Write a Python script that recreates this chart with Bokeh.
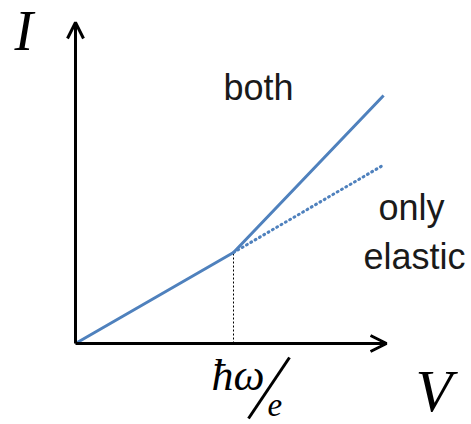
from bokeh.plotting import figure
from bokeh.models import Range1d, Arrow, OpenHead, ColumnDataSource
from bokeh.core.properties import value
from bokeh.embed import file_html
from bokeh.resources import INLINE

# Schematic I-V curve: elastic channel only vs. elastic + inelastic
# Voltage in units of the threshold hbar*omega/e
voltage = [0.0, 1.0, 1.95]
current_both = [0.0, 0.576, 1.57]
voltage_elastic_ext = [1.0, 1.95]
current_elastic_ext = [0.576, 1.13]
threshold_v = 1.0
threshold_i = 0.576

# pixel scale of one unit, origin position in the frame
UNIT = 158.0
OX, OY = 75.0, 343.0
W, H = 471, 424


def X(px):
    return (px - OX) / UNIT


def Y(py):
    return (OY - py) / UNIT


p = figure(width=W, height=H, output_backend="svg", toolbar_location=None,
           x_range=Range1d(X(0), X(W)), y_range=Range1d(Y(H), Y(0)),
           x_axis_location=None, y_axis_location=None, min_border=0)
p.grid.visible = False
p.outline_line_color = None
p.background_fill_color = "white"
p.border_fill_color = "white"

BLUE = "#4f81bd"

# axes drawn as arrows
p.add_layout(Arrow(end=OpenHead(size=16, line_width=3, line_color="black"),
                   x_start=0, y_start=0, x_end=0, y_end=Y(22),
                   line_width=3, line_color="black"))
p.add_layout(Arrow(end=OpenHead(size=16, line_width=3, line_color="black"),
                   x_start=0, y_start=0, x_end=X(386), y_end=0,
                   line_width=3, line_color="black"))

# threshold marker
p.line([threshold_v, threshold_v], [0, threshold_i], line_color="black",
       line_width=1, line_dash="2 2")

# curves
p.line(voltage_elastic_ext, current_elastic_ext, line_color=BLUE, line_width=3,
       line_dash="1 4", line_cap="round")
p.line(voltage, current_both, line_color=BLUE, line_width=3)

# axis labels
p.text([X(14)], [Y(30)], text=["I"], text_font=value("Liberation Serif"),
       text_font_style="italic", text_font_size="56px", text_color="black",
       text_align="left", text_baseline="middle")
p.text([X(415)], [Y(423)], text=["V"], text_font=value("Liberation Serif"),
       text_font_style="italic", text_font_size="60px", text_color="black",
       text_align="left", text_baseline="bottom")

# threshold label hbar*omega / e
p.text([X(211)], [Y(375)], text=["ħω"], text_font=value("Liberation Serif"),
       text_font_style="italic", text_font_size="44px", text_color="black",
       text_align="left", text_baseline="middle")
p.line([X(248), X(289)], [Y(418), Y(357)], line_color="black", line_width=3)
p.text([X(267)], [Y(415)], text=["e"], text_font=value("Liberation Serif"),
       text_font_style="italic", text_font_size="33px", text_color="black",
       text_align="left", text_baseline="bottom")

# curve annotations
labels = ColumnDataSource(dict(
    x=[X(258), X(411), X(414)],
    y=[Y(87), Y(207), Y(256)],
    t=["both", "only", "elastic"],
))
p.text("x", "y", text="t", source=labels, text_font=value("Liberation Sans"),
       text_font_size="36px", text_color="#1a1a1a", text_align="center",
       text_baseline="middle")

open("out.html", "w").write(file_html(p, INLINE))
